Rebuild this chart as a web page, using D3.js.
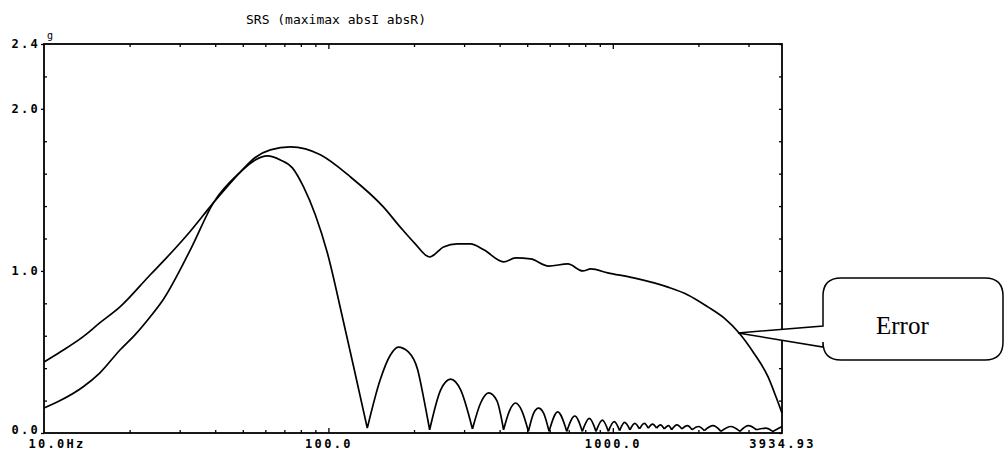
<!DOCTYPE html>
<html>
<head>
<meta charset="utf-8">
<script src="https://cdn.jsdelivr.net/npm/d3@7"></script>
<style>
  body { margin: 0; background: #fff; }
  .tick text { font-family: "DejaVu Sans Mono", monospace; font-weight: bold; font-size: 12px; letter-spacing: 2.3px; fill: #000; }
</style>
</head>
<body>
<svg id="graphContainer"></svg>
<script>
/*Data*/
const titleText = 'SRS (maximax absI absR)'
const unitLabel = 'g'
const calloutText = 'Error'

const freqMin = 10
const freqMax = 3934.93

const yMajorTicks = [0, 1.0, 2.0, 2.4]
const yMinorTicks = [0.2, 0.4, 0.6, 0.8, 1.2, 1.4, 1.6, 1.8, 2.2]
const xTickValues = [10, 100, 1000, 3934.93]
const xTickLabels = ['10.0Hz', '100.0', '1000.0', '3934.93']
const xMinorTicks = [20, 30, 40, 50, 60, 70, 80, 90, 200, 300, 400, 500, 600, 700, 800, 900, 2000, 3000]

/*smooth curve (the one pointed at by the callout)*/
const freqA = [10, 11.4, 13.7, 15.7, 18.5, 23.6, 27.1, 32.7, 39.4, 49.0, 55.3, 62.5, 73.5, 83, 93.7,
  119.5, 156, 179, 202, 227, 254, 284, 316, 352, 413, 455, 514, 595, 695, 784, 837, 960,
  1185, 1563, 1837, 2160, 2460, 2780, 3130, 3516, 3750, 3934.93]
const gA = [0.438, 0.50, 0.593, 0.679, 0.778, 0.975, 1.085, 1.245, 1.42, 1.61, 1.70, 1.747, 1.765, 1.753, 1.716,
  1.58, 1.395, 1.27, 1.167, 1.086, 1.148, 1.167, 1.167, 1.13, 1.056, 1.08, 1.074, 1.03, 1.043, 1.0, 1.012, 0.988,
  0.957, 0.90, 0.852, 0.778, 0.71, 0.617, 0.494, 0.346, 0.222, 0.123]

/*oscillating curve*/
const freqB = [10, 11.4, 13.7, 15.7, 18.5, 21.0, 23.6, 26.2, 32.7, 39.4, 49.0, 55.3, 61.0, 67.8, 74.7, 81.7, 90.0, 99.2, 112, 124.5, 137,
  152, 165, 176, 191, 206, 216, 227,
  248, 269, 292, 321,
  343, 366, 391, 413,
  434, 455, 478, 505,
  527, 548, 571, 597,
  640, 689, 735, 781, 827, 873, 919, 965, 1011, 1057,
  1100, 1149, 1195, 1241, 1290, 1333, 1380, 1425, 1470, 1517, 1570, 1610, 1680, 1750, 1830, 1900,
  2000, 2100, 2250, 2400, 2600, 2800, 3000, 3200, 3450, 3650, 3934.93]
const gB = [0.154, 0.20, 0.284, 0.37, 0.512, 0.61, 0.716, 0.821, 1.13, 1.42, 1.61, 1.685, 1.71, 1.685, 1.636, 1.52, 1.345, 1.11, 0.716, 0.358, 0.03,
  0.327, 0.48, 0.53, 0.50, 0.39, 0.22, 0.02,
  0.265, 0.333, 0.265, 0.025,
  0.185, 0.247, 0.20, 0.02,
  0.14, 0.185, 0.14, 0.01,
  0.123, 0.154, 0.123, 0.01,
  0.13, 0.01, 0.105, 0.01, 0.09, 0.01, 0.08, 0.01, 0.07, 0.015,
  0.065, 0.02, 0.06, 0.025, 0.06, 0.03, 0.055, 0.03, 0.05, 0.025, 0.045, 0.02, 0.05, 0.025, 0.045, 0.02,
  0.04, 0.015, 0.045, 0.01, 0.04, 0.01, 0.045, 0.02, 0.03, 0.01, 0.04]

const margin = {top: 44, right: 224, bottom: 21, left: 44},
width = 1006,
height = 454

let svgContainer = d3.select('#graphContainer')
                     .attr('width', width)
                     .attr('height', height)

let xScale = d3.scaleLog()
               .domain([freqMin, freqMax])
               .range([margin.left, width - margin.right])

let yScale = d3.scaleLinear()
               .domain([0, 2.4])
               .range([height - margin.bottom, margin.top])

/*Axes and frame*/
const drawAxes = () => {
    let x0 = margin.left, x1 = width - margin.right
    let y0 = height - margin.bottom, y1 = margin.top

    svgContainer.append('rect')
                .attr('x', x0).attr('y', y1)
                .attr('width', x1 - x0).attr('height', y0 - y1)
                .attr('fill', 'none')
                .attr('stroke', '#000')
                .attr('stroke-width', 1.8)

    /*left, labels*/
    let yLabels = svgContainer.append('g')
                .attr('transform', 'translate(' + x0 + ',0)')
                .call(d3.axisLeft(yScale).tickValues(yMajorTicks).tickSize(3).tickPadding(1).tickFormat(d3.format('.1f')))
                .call(g => g.select('.domain').remove())
    yLabels.selectAll('.tick text')
           .filter(d => d === 0)
           .attr('y', -3)

    /*left minor ticks, inward*/
    svgContainer.append('g')
                .attr('transform', 'translate(' + x0 + ',0)')
                .call(d3.axisRight(yScale).tickValues(yMinorTicks).tickSize(3).tickFormat(''))
                .call(g => g.select('.domain').remove())

    /*right ticks, inward*/
    svgContainer.append('g')
                .attr('transform', 'translate(' + x1 + ',0)')
                .call(d3.axisLeft(yScale).tickValues(yMinorTicks.concat(yMajorTicks)).tickSize(3).tickFormat(''))
                .call(g => g.select('.domain').remove())

    /*bottom ticks, inward*/
    svgContainer.append('g')
                .attr('transform', 'translate(0,' + y0 + ')')
                .call(d3.axisTop(xScale).tickValues(xMinorTicks).tickSize(3).tickFormat(''))
                .call(g => g.select('.domain').remove())
    svgContainer.append('g')
                .attr('transform', 'translate(0,' + y0 + ')')
                .call(d3.axisTop(xScale).tickValues([100, 1000]).tickSize(5).tickFormat(''))
                .call(g => g.select('.domain').remove())

    /*bottom labels*/
    let xLabels = svgContainer.append('g')
                .attr('transform', 'translate(0,' + y0 + ')')
                .call(d3.axisBottom(xScale).tickValues(xTickValues).tickSize(0).tickPadding(6)
                        .tickFormat((d, i) => xTickLabels[i]))
                .call(g => g.select('.domain').remove())
    xLabels.selectAll('.tick text')
           .filter((d, i) => i === 0)
           .attr('text-anchor', 'start')
           .attr('x', -16)

    /*top ticks, inward*/
    svgContainer.append('g')
                .attr('transform', 'translate(0,' + y1 + ')')
                .call(d3.axisBottom(xScale).tickValues(xMinorTicks).tickSize(3).tickFormat(''))
                .call(g => g.select('.domain').remove())
    svgContainer.append('g')
                .attr('transform', 'translate(0,' + y1 + ')')
                .call(d3.axisBottom(xScale).tickValues([100, 1000]).tickSize(5).tickFormat(''))
                .call(g => g.select('.domain').remove())

    svgContainer.selectAll('.tick line').attr('stroke', '#000').attr('stroke-width', 1.3)

    /*unit*/
    svgContainer.append('text')
                .attr('x', x0 + 3)
                .attr('y', y1 - 5)
                .style('font-family', '"DejaVu Sans Mono", monospace')
                .style('font-size', '10px')
                .text(unitLabel)

    /*title*/
    svgContainer.append('text')
                .attr('x', 336)
                .attr('y', 24)
                .attr('text-anchor', 'middle')
                .style('font-family', '"DejaVu Sans Mono", monospace')
                .style('font-size', '13px')
                .text(titleText)
}

/*Curves*/
const drawCurves = () => {
    let line = d3.line()
                 .x(d => xScale(d[0]))
                 .y(d => yScale(d[1]))
                 .curve(d3.curveMonotoneX)

    svgContainer.append('path')
                .datum(d3.zip(freqA, gA))
                .attr('fill', 'none')
                .attr('stroke', '#000')
                .attr('stroke-width', 1.7)
                .attr('d', line)

    /*the oscillating curve is cut at each valley so the valleys stay sharp*/
    let pointsB = d3.zip(freqB, gB)
    let lobes = []
    let current = [pointsB[0]]
    for (let i = 1; i < pointsB.length; i++) {
        current.push(pointsB[i])
        let isValley = i < pointsB.length - 1 && gB[i] < gB[i - 1] && gB[i] < gB[i + 1]
        if (isValley) {
            lobes.push(current)
            current = [pointsB[i]]
        }
    }
    lobes.push(current)

    svgContainer.append('path')
                .attr('fill', 'none')
                .attr('stroke', '#000')
                .attr('stroke-width', 1.7)
                .attr('stroke-linejoin', 'round')
                .attr('d', lobes.map(l => line(l)).join(''))
}

/*Callout box pointing at the smooth curve*/
const drawCallout = () => {
    let bx0 = 823, bx1 = 1003, by0 = 278, by1 = 360, r = 18
    let tipX = 738, tipY = 333
    let path = d3.path()
    path.moveTo(bx0 + r, by0)
    path.lineTo(bx1 - r, by0)
    path.quadraticCurveTo(bx1, by0, bx1, by0 + r)
    path.lineTo(bx1, by1 - r)
    path.quadraticCurveTo(bx1, by1, bx1 - r, by1)
    path.lineTo(bx0 + r, by1)
    path.quadraticCurveTo(bx0, by1, bx0, by1 - r)
    path.lineTo(bx0, 347)
    path.lineTo(tipX, tipY)
    path.lineTo(bx0, 326)
    path.lineTo(bx0, by0 + r)
    path.quadraticCurveTo(bx0, by0, bx0 + r, by0)
    path.closePath()

    svgContainer.append('path')
                .attr('d', path.toString())
                .attr('fill', '#fff')
                .attr('stroke', '#000')
                .attr('stroke-width', 1.5)

    svgContainer.append('text')
                .attr('x', 876)
                .attr('y', 334)
                .style('font-family', '"Liberation Serif", "Times New Roman", serif')
                .style('font-size', '25px')
                .text(calloutText)
}

drawAxes()
drawCurves()
drawCallout()
</script>
</body>
</html>
